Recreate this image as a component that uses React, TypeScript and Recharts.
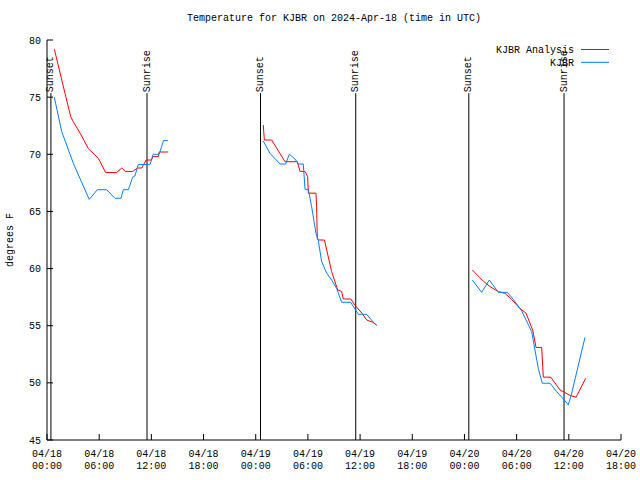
import React from 'react';
import { LineChart, Line, XAxis, YAxis, ReferenceLine, Legend } from 'recharts';

const FONT = '"Liberation Mono", "DejaVu Sans Mono", monospace';

const seriesNames = ['KJBR Analysis', 'KJBR'];

// hours since 2024-04-18 00:00 UTC; null temps split the segments
const analysisHours = [
  0.84, 2.72, 3.03, 3.99, 4.75, 5.9, 6.75, 8.0, 8.6, 9.0, 9.85, 10.4, 10.9, 11.4, 12.0, 12.2, 12.8, 12.9, 13.95,
  19,
  24.87, 24.99, 25.83, 27.37, 28.78, 29.1, 29.67, 29.97, 30.05, 30.93, 31.0, 31.08, 31.2, 31.9, 32.73, 33.42, 33.88, 34.07, 34.92, 35.4, 36.2, 36.76, 37.45, 37.9,
  43,
  48.9, 50.17, 50.94, 51.9, 52.66, 53.43, 54.39, 55.08, 55.85, 56.23, 56.88, 57.07, 57.92, 58.99, 60.14, 60.83, 61.94,
];
const analysisTemps = [
  79.2, 73.3, 72.85, 71.6, 70.5, 69.65, 68.4, 68.4, 68.8, 68.5, 68.5, 68.8, 68.8, 69.5, 69.5, 69.8, 69.8, 70.2, 70.2,
  null,
  72.56, 71.25, 71.25, 69.35, 69.35, 68.5, 68.5, 68.04, 66.6, 66.6, 65.4, 62.65, 62.5, 62.5, 59.73, 58.13, 58.0, 57.34, 57.34, 56.8, 56.1, 55.5, 55.3, 55.07,
  null,
  59.88, 58.9, 58.42, 57.98, 57.84, 57.3, 56.5, 56.1, 54.6, 53.1, 53.1, 50.5, 50.5, 49.38, 48.9, 48.74, 50.4,
];

const observedHours = [
  0.84, 1.69, 3.03, 4.86, 5.79, 6.86, 7.82, 8.5, 8.78, 9.35, 9.85, 10.1, 10.5, 11.85, 12.2, 12.9, 13.4, 13.9,
  19,
  24.87, 25.64, 26.8, 27.44, 27.86, 28.5, 28.9, 29.47, 29.67, 30.05, 30.43, 30.93, 31.2, 31.58, 32.16, 32.73, 33.3, 33.88, 34.92, 35.8, 36.76, 37.3, 37.9,
  43,
  48.9, 49.98, 50.86, 51.9, 52.93, 53.62, 54.58, 55.73, 56.49, 56.95, 57.84, 58.6, 59.48, 59.94, 60.33, 61.86,
];
const observedTemps = [
  75.0, 72.0, 69.2, 66.05, 66.9, 66.9, 66.15, 66.15, 66.9, 66.9, 68.0, 68.1, 69.1, 69.1, 70.0, 70.0, 71.2, 71.2,
  null,
  71.16, 70.08, 69.15, 69.15, 70.0, 69.6, 69.15, 69.15, 66.93, 66.93, 65.4, 63.1, 62.44, 60.6, 59.6, 59.0, 58.27, 57.05, 57.05, 56.0, 56.0, 55.5, 55.0,
  null,
  59.0, 57.92, 59.0, 57.92, 57.92, 57.3, 56.3, 54.48, 51.27, 49.97, 49.97, 49.23, 48.5, 48.07, 49.1, 53.98,
];

const sunHours = [0.45, 11.5, 24.55, 35.5, 48.5, 59.45];
const sunLabels = ['Sunset', 'Sunrise', 'Sunset', 'Sunrise', 'Sunset', 'Sunrise'];
const sunLineTop = 75.35;

const xMajorTicks = [0, 6, 12, 18, 24, 30, 36, 42, 48, 54, 60, 66];
const xTickDates = ['04/18', '04/18', '04/18', '04/18', '04/19', '04/19', '04/19', '04/19', '04/20', '04/20', '04/20', '04/20'];
const xTickTimes = ['00:00', '06:00', '12:00', '18:00', '00:00', '06:00', '12:00', '18:00', '00:00', '06:00', '12:00', '18:00'];
const xMinorTicks = [0, 2, 4, 6, 8, 10, 12, 14, 16, 18, 20, 22, 24, 26, 28, 30, 32, 34, 36, 38, 40, 42, 44, 46, 48, 50, 52, 54, 56, 58, 60, 62, 64, 66];
const yTicks = [45, 50, 55, 60, 65, 70, 75, 80];
const xDomain = [0, 66];
const yDomain = [45, 80];

const analysisData = analysisHours.map((h, i) => ({ h, t: analysisTemps[i] }));
const observedData = observedHours.map((h, i) => ({ h, t: observedTemps[i] }));

const XTick = (props: any) => {
  const { x, y, payload } = props;
  const idx = xMajorTicks.indexOf(payload.value);
  return (
    <g>
      <text x={x} y={y} dy="0.35em" textAnchor="middle" fontFamily={FONT} fontSize={10} fill="#000">
        {xTickDates[idx]}
      </text>
      <text x={x} y={y + 12} dy="0.35em" textAnchor="middle" fontFamily={FONT} fontSize={10} fill="#000">
        {xTickTimes[idx]}
      </text>
    </g>
  );
};

const YTick = (props: any) => {
  const { x, y, payload } = props;
  return (
    <text x={x} y={y} dy="0.35em" textAnchor="end" fontFamily={FONT} fontSize={10} fill="#000">
      {payload.value}
    </text>
  );
};

const sunLabel = (text: string) => (props: any) => {
  const vb = props.viewBox || {};
  const x = vb.x;
  const y = vb.y - 1;
  return (
    <text
      x={x}
      y={y}
      transform={`rotate(-90 ${x} ${y})`}
      textAnchor="start"
      dominantBaseline="central"
      fontFamily={FONT}
      fontSize={10}
      fill="#000"
    >
      {text}
    </text>
  );
};

const renderLegend = (props: any) => {
  const items = [...(props.payload || [])].sort(
    (a: any, b: any) => seriesNames.indexOf(a.value) - seriesNames.indexOf(b.value)
  );
  return (
    <svg width={150} height={30}>
      {items.map((it: any, i: number) => {
        const cy = 9.5 + i * 12.8;
        return (
          <g key={i}>
            <text x={104} y={cy} dy="0.35em" textAnchor="end" fontFamily={FONT} fontSize={10} fill="#000">
              {it.value}
            </text>
            <line x1={111} x2={139} y1={cy} y2={cy} stroke={it.color} strokeWidth={1} />
          </g>
        );
      })}
    </svg>
  );
};

export default function App() {
  return (
    <div style={{ position: 'absolute', left: 0, top: 0, width: 640, height: 480, background: '#fff' }}>
      <div
        style={{
          position: 'absolute',
          left: 47,
          width: 574,
          top: 12,
          textAlign: 'center',
          fontFamily: FONT,
          fontSize: 10,
          lineHeight: '14px',
          color: '#000',
        }}
      >
        Temperature for KJBR on 2024-Apr-18 (time in UTC)
      </div>
      <div style={{ position: 'absolute', left: 0, top: 0 }}>
        <LineChart width={640} height={480} margin={{ top: 40, right: 19, bottom: 0, left: 0 }}>
          <XAxis
            xAxisId="minorB"
            orientation="bottom"
            type="number"
            dataKey="h"
            domain={xDomain}
            ticks={xMinorTicks}
            interval={0}
            height={0}
            tickSize={-3}
            tick={false}
            axisLine={false}
            tickLine={{ stroke: '#000' }}
          />
          <XAxis
            orientation="bottom"
            type="number"
            dataKey="h"
            domain={xDomain}
            ticks={xMajorTicks}
            interval={0}
            height={40}
            tickSize={-6}
            tickMargin={19}
            tick={<XTick />}
            axisLine={{ stroke: '#000' }}
            tickLine={{ stroke: '#000' }}
          />
          <XAxis
            xAxisId="top"
            orientation="top"
            type="number"
            dataKey="h"
            domain={xDomain}
            ticks={xMajorTicks}
            interval={0}
            height={0}
            tickSize={-6}
            tick={false}
            axisLine={{ stroke: '#000' }}
            tickLine={{ stroke: '#000' }}
          />
          <XAxis
            xAxisId="topMinor"
            orientation="top"
            type="number"
            dataKey="h"
            domain={xDomain}
            ticks={xMinorTicks}
            interval={0}
            height={0}
            tickSize={-3}
            tick={false}
            axisLine={false}
            tickLine={{ stroke: '#000' }}
          />
          <YAxis
            type="number"
            domain={yDomain}
            ticks={yTicks}
            interval={0}
            width={47}
            tickSize={-6}
            tickMargin={12}
            tick={<YTick />}
            axisLine={{ stroke: '#000' }}
            tickLine={{ stroke: '#000' }}
            label={(p: any) => {
              const vb = p.viewBox || {};
              const cx = (vb.x || 0) + 10;
              const cy = (vb.y || 0) + (vb.height || 0) / 2;
              return (
                <text
                  x={cx}
                  y={cy}
                  transform={`rotate(-90 ${cx} ${cy})`}
                  textAnchor="middle"
                  dominantBaseline="central"
                  fontFamily={FONT}
                  fontSize={10}
                  fill="#000"
                >
                  degrees F
                </text>
              );
            }}
          />
          <YAxis
            yAxisId="right"
            orientation="right"
            type="number"
            domain={yDomain}
            ticks={yTicks}
            interval={0}
            width={0}
            tickSize={-6}
            tick={false}
            axisLine={{ stroke: '#000' }}
            tickLine={{ stroke: '#000' }}
          />
          {sunHours.map((h, i) => (
            <ReferenceLine
              key={i}
              segment={[
                { x: h, y: yDomain[0] },
                { x: h, y: sunLineTop },
              ]}
              stroke="#000"
              strokeWidth={1}
              label={sunLabel(sunLabels[i])}
            />
          ))}
          <Line
            data={analysisData}
            dataKey="t"
            name={seriesNames[0]}
            stroke="#ff0000"
            strokeWidth={1}
            dot={false}
            connectNulls={false}
            isAnimationActive={false}
          />
          <Line
            data={observedData}
            dataKey="t"
            name={seriesNames[1]}
            stroke="#0080ff"
            strokeWidth={1}
            dot={false}
            connectNulls={false}
            isAnimationActive={false}
          />
          <Legend
            layout="horizontal"
            align="center"
            verticalAlign="middle"
            content={renderLegend}
            wrapperStyle={{ position: 'absolute', left: 470, top: 40, width: 150, height: 30 }}
          />
        </LineChart>
      </div>
    </div>
  );
}
